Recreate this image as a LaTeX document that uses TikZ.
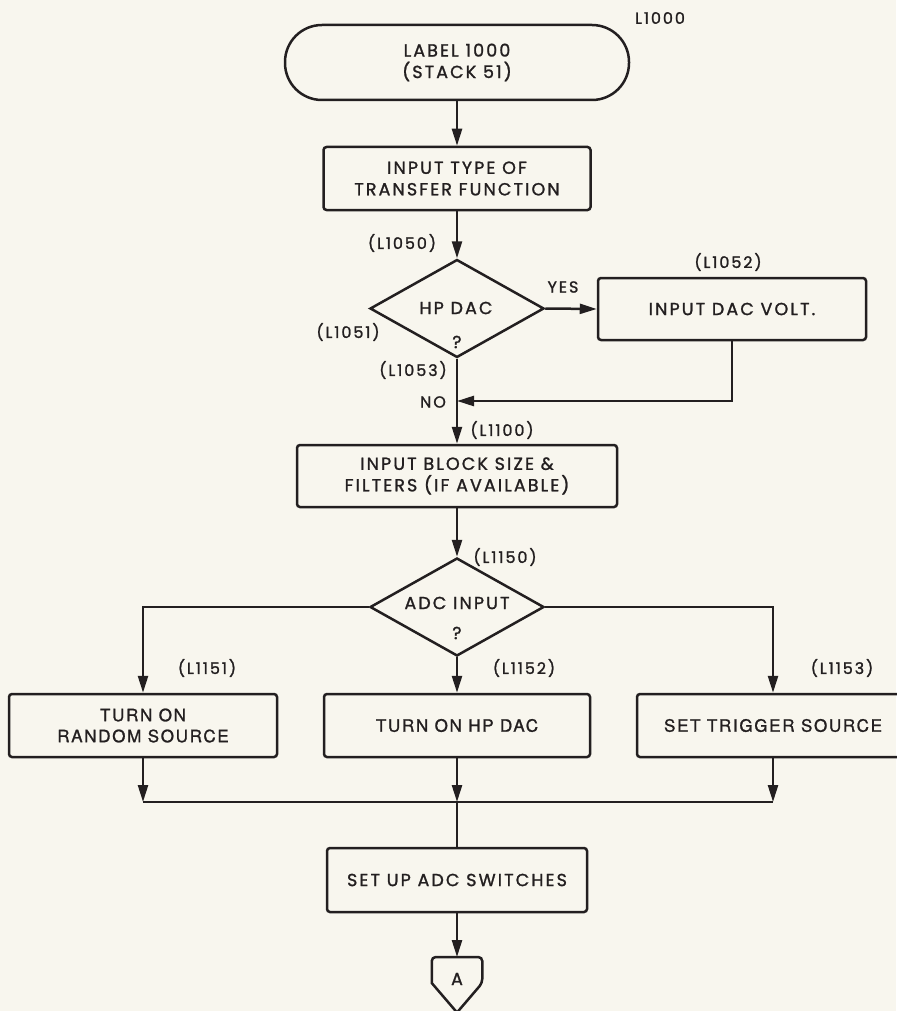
\documentclass[tikz,border=0pt]{standalone}
\usepackage{fontspec}
\setmainfont{Poppins}[LetterSpace=12,FakeBold=1.3]
\newfontfamily\hvfont{TeX Gyre Heros}[LetterSpace=10,FakeBold=1.2]
\usetikzlibrary{arrows.meta,shapes.geometric}
\definecolor{ink}{RGB}{35,31,32}
\definecolor{paper}{RGB}{248,246,238}
\newcommand\fbx{\fontsize{17.5}{21.5}\selectfont}
\newcommand\flb{\fontsize{16}{18}\selectfont}
\newcommand\fhv{\hvfont\fontsize{17}{21}\selectfont}
\tikzset{
  box/.style={draw, rounded corners=3pt, minimum height=63, inner sep=0, align=center, font=\fbx},
  hbox/.style={box, font=\fhv},
  dia/.style={draw, diamond, minimum width=174, minimum height=98, inner sep=0},
  lbl/.style={font=\flb, inner sep=0},
  txt/.style={font=\fbx, inner sep=0},
  arr/.style={-{Triangle[length=17pt,width=10pt]}},
}
\begin{document}
\begin{tikzpicture}[x=1pt,y=-1pt,line width=2.5pt,color=ink]
\fill[paper] (0,0) rectangle (896,1011);
\useasboundingbox (0,0) rectangle (896,1011);

% nodes
\node[draw, rounded corners=37pt, minimum width=344, minimum height=75, inner sep=0, align=center, font=\fbx] (term) at (457,62.5) {LABEL 1000\\(STACK 51)};
\node[lbl] (l1000) at (660,18) {L1000};

\node[box, minimum width=267] (box1) at (457,178.5) {INPUT TYPE OF\\TRANSFER FUNCTION};
\node[lbl] (l1050) at (402,243) {(L1050)};

\node[dia] (d1) at (457,308.5) {};
\node[txt] (d1t) at (456,308) {HP DAC};
\node[txt] (d1q) at (457,342) {?};
\node[lbl] (yes) at (563,287) {YES};

\node[box, minimum width=268, minimum height=62] (box2) at (732,309) {INPUT DAC VOLT.};
\node[lbl] (l1052) at (728,262) {(L1052)};
\node[lbl] (l1051) at (348,332) {(L1051)};
\node[lbl] (l1053) at (413,370) {(L1053)};
\node[lbl] (no) at (433,402) {NO};
\coordinate (m1) at (457,401);

\node[box, minimum width=320, minimum height=62] (box3) at (457,476) {INPUT BLOCK SIZE \&\\FILTERS (IF AVAILABLE)};
\node[lbl] (l1100) at (502,430) {(L1100)};
\node[lbl] (l1150) at (505,557) {(L1150)};

\node[dia] (d2) at (457,607) {};
\node[txt] (d2t) at (457,603) {ADC INPUT};
\node[txt] (d2q) at (457,633) {?};

\node[hbox, minimum width=268] (box4) at (143,725.5) {TURN ON\\RANDOM SOURCE};
\node[hbox, minimum width=266] (box5) at (457,725.5) {TURN ON HP DAC};
\node[hbox, minimum width=272] (box6) at (773,725.5) {SET TRIGGER SOURCE};
\node[lbl] (l1151) at (207,668) {(L1151)};
\node[lbl] (l1152) at (524,668) {(L1152)};
\node[lbl] (l1153) at (842,668) {(L1153)};

\coordinate (jl) at (143,802);
\coordinate (jm) at (457,802);
\coordinate (jr) at (773,802);

\node[box, minimum width=260, minimum height=64] (box7) at (457,880) {SET UP ADC SWITCHES};

\node[inner sep=0, minimum width=48, minimum height=53, anchor=north] (conA) at (457,957) {};
\node[txt] (atxt) at (457,979) {A};
\draw (conA.south) -- (conA.west |- 0,983) [rounded corners=4pt] -- (conA.north west) -- (conA.north east) -- (conA.east |- 0,983) [sharp corners] -- cycle;

% connectors
\draw[arr] (term) -- (box1);
\draw[arr] (box1) -- (d1.north);
\draw[arr] (d1.east) -- (box2.west);
\draw[arr] (box2.south) |- (m1);
\draw[arr] (d1.south) -- (box3.north);
\draw[arr] (box3.south) -- (d2.north);
\draw[arr] (d2.west) -| (box4.north);
\draw[arr] (d2.south) -- (box5.north);
\draw[arr] (d2.east) -| (box6.north);
\draw[arr] (box4.south) -- (jl);
\draw[arr] (box5.south) -- (jm);
\draw[arr] (box6.south) -- (jr);
\draw (jl) -- (jr);
\draw (jm) -- (box7.north);
\draw[arr] (box7.south) -- (conA.north);
\end{tikzpicture}
\end{document}
